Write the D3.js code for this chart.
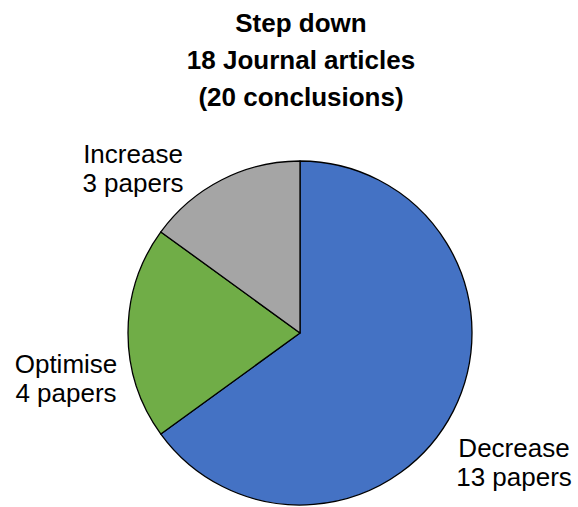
<!DOCTYPE html>
<html>
<head>
<meta charset="utf-8">
<script src="https://cdn.jsdelivr.net/npm/d3@7"></script>
<style>
  html, body { margin: 0; padding: 0; background: #ffffff; }
  svg { display: block; font-family: "Liberation Sans", Arial, sans-serif; }
</style>
</head>
<body>
<svg id="chart" width="578" height="507"></svg>
<script>
// Conclusions about step-down, grouped by outcome
const categories = ["Decrease", "Optimise", "Increase"];
const papers = [13, 4, 3];
const sliceColors = ["#4472C4", "#70AD47", "#A5A5A5"];
const titleLines = ["Step down", "18 Journal articles", "(20 conclusions)"];
const labelLines = [
  ["Decrease", "13 papers"],
  ["Optimise", "4 papers"],
  ["Increase", "3 papers"]
];

const svg = d3.select("#chart");
const cx = 300, cy = 333, radius = 172;

// Title
svg.append("g")
  .selectAll("text")
  .data(titleLines)
  .join("text")
  .attr("x", 301)
  .attr("y", (d, i) => 32 + i * 37)
  .attr("text-anchor", "middle")
  .attr("font-size", 26)
  .attr("font-weight", "bold")
  .attr("fill", "#000")
  .text(d => d);

// Pie, starting at 12 o'clock and running clockwise
const pie = d3.pie().sort(null).value(d => d);
const arcs = pie(papers);
const arc = d3.arc().innerRadius(0).outerRadius(radius);

const g = svg.append("g").attr("transform", `translate(${cx},${cy})`);
g.selectAll("path")
  .data(arcs)
  .join("path")
  .attr("d", arc)
  .attr("fill", (d, i) => sliceColors[i])
  .attr("stroke", "#000")
  .attr("stroke-width", 1.3)
  .attr("stroke-linejoin", "round");

// Outside labels: anchor points relative to the pie centre
const labelPos = [
  { x: 214, y: 124 },   // Decrease
  { x: -234, y: 40 },   // Optimise
  { x: -167, y: -170 }  // Increase
];
const labels = svg.append("g");
arcs.forEach((d, i) => {
  const t = labels.append("text")
    .attr("text-anchor", "middle")
    .attr("font-size", 26)
    .attr("fill", "#000");
  labelLines[i].forEach((line, j) => {
    t.append("tspan")
      .attr("x", cx + labelPos[i].x)
      .attr("y", cy + labelPos[i].y + j * 29)
      .text(line);
  });
});
</script>
</body>
</html>
